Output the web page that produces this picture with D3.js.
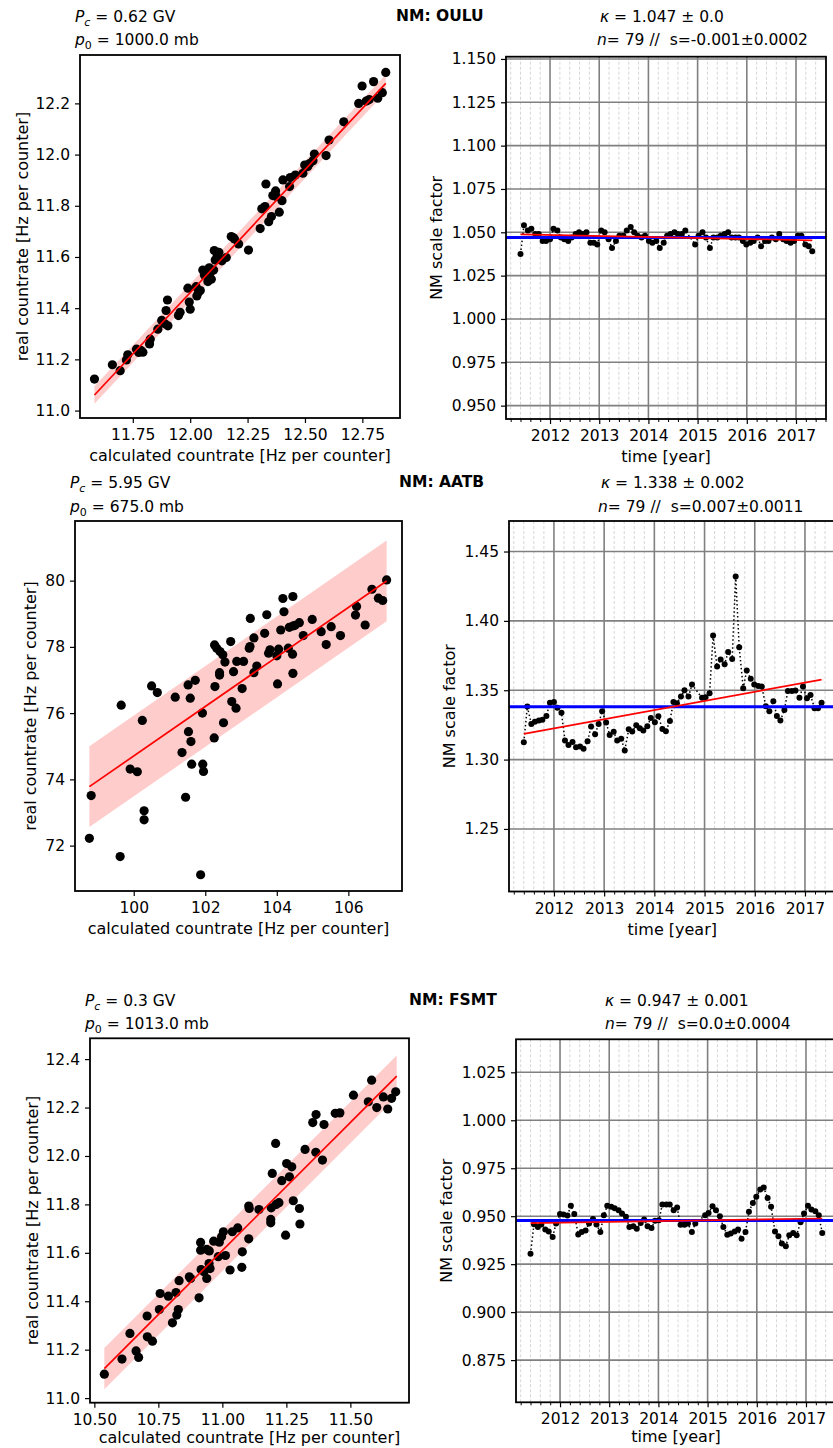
<!DOCTYPE html>
<html>
<head>
<meta charset="utf-8">
<script src="https://cdn.jsdelivr.net/npm/d3@7"></script>
<style>
  body { margin: 0; background: #fff; }
  svg { display: block; font-family: "DejaVu Sans", sans-serif; }
</style>
</head>
<body>
<div id="chart"></div>
<script>
const svgWidth = 833;
const svgHeight = 1448;

// time stamps (decimal year) of the 79 intervals, shared by all stations
const times = [
  2011.40, 2011.47, 2011.55, 2011.62, 2011.70, 2011.77, 2011.85, 2011.92, 2012.00, 2012.07,
  2012.15, 2012.22, 2012.29, 2012.37, 2012.44, 2012.52, 2012.59, 2012.67, 2012.74, 2012.82,
  2012.89, 2012.96, 2013.04, 2013.11, 2013.19, 2013.26, 2013.34, 2013.41, 2013.49, 2013.56,
  2013.64, 2013.71, 2013.78, 2013.86, 2013.93, 2014.01, 2014.08, 2014.16, 2014.23, 2014.31,
  2014.38, 2014.45, 2014.53, 2014.60, 2014.68, 2014.75,
  2014.95, 2015.02, 2015.10, 2015.17, 2015.25, 2015.32, 2015.40, 2015.47, 2015.55, 2015.62,
  2015.69, 2015.77, 2015.84, 2015.92, 2015.99, 2016.07, 2016.14, 2016.22, 2016.29, 2016.37,
  2016.44, 2016.51, 2016.59, 2016.66, 2016.74, 2016.81, 2016.89, 2016.96, 2017.04, 2017.11,
  2017.19, 2017.26, 2017.33
];

// NM scale factor per interval
const ouluScale = [
  1.0375, 1.0540, 1.0510, 1.0520, 1.0490, 1.0490, 1.0450, 1.0450, 1.0460, 1.0520,
  1.0510, 1.0470, 1.0460, 1.0450, 1.0470, 1.0490, 1.0500, 1.0490, 1.0500, 1.0440,
  1.0440, 1.0430, 1.0510, 1.0500, 1.0460, 1.0410, 1.0450, 1.0480, 1.0480, 1.0510,
  1.0530, 1.0500, 1.0480, 1.0470, 1.0480, 1.0450, 1.0440, 1.0450, 1.0410, 1.0440,
  1.0480, 1.0490, 1.0500, 1.0490, 1.0490, 1.0510,
  1.0430, 1.0480, 1.0500, 1.0470, 1.0410, 1.0470, 1.0470, 1.0480, 1.0490, 1.0500,
  1.0470, 1.0470, 1.0470, 1.0450, 1.0430, 1.0440, 1.0450, 1.0470, 1.0420, 1.0450,
  1.0450, 1.0470, 1.0460, 1.0490, 1.0460, 1.0450, 1.0440, 1.0450, 1.0480, 1.0480,
  1.0430, 1.0420, 1.0390
];
const aatbScale = [
  1.3125, 1.3382, 1.3257, 1.3272, 1.3281, 1.3288, 1.3315, 1.3409, 1.3416, 1.3373,
  1.3337, 1.3137, 1.3106, 1.3127, 1.3089, 1.3094, 1.3079, 1.3132, 1.3238, 1.3183,
  1.3257, 1.3349, 1.3267, 1.3178, 1.3200, 1.3137, 1.3151, 1.3065, 1.3219, 1.3202,
  1.3248, 1.3226, 1.3209, 1.3240, 1.3300, 1.3269, 1.3312, 1.3221, 1.3204, 1.3279,
  1.3416, 1.3406, 1.3454, 1.3500, 1.3454, 1.3541,
  1.3445, 1.3450, 1.3478, 1.3894, 1.3671, 1.3721, 1.3688, 1.3776, 1.3726, 1.4320,
  1.3810, 1.3514, 1.3642, 1.3582, 1.3541, 1.3531, 1.3526, 1.3385, 1.3349, 1.3421,
  1.3315, 1.3281, 1.3358, 1.3495, 1.3495, 1.3498, 1.3445, 1.3526, 1.3442, 1.3466,
  1.3370, 1.3370, 1.3409
];
const fsmtScale = [
  0.9304, 0.9458, 0.9444, 0.9457, 0.9431, 0.9420, 0.9392, 0.9462, 0.9512, 0.9509,
  0.9503, 0.9554, 0.9512, 0.9405, 0.9417, 0.9425, 0.9462, 0.9486, 0.9457, 0.9418,
  0.9505, 0.9554, 0.9549, 0.9542, 0.9531, 0.9514, 0.9497, 0.9444, 0.9448, 0.9434,
  0.9465, 0.9483, 0.9448, 0.9438, 0.9476, 0.9479, 0.9561, 0.9561, 0.9561, 0.9531,
  0.9545, 0.9455, 0.9455, 0.9462, 0.9417, 0.9462,
  0.9505, 0.9517, 0.9552, 0.9531, 0.9500, 0.9444, 0.9403, 0.9410, 0.9420, 0.9431,
  0.9382, 0.9418, 0.9523, 0.9569, 0.9601, 0.9639, 0.9649, 0.9595, 0.9549, 0.9420,
  0.9396, 0.9358, 0.9344, 0.9401, 0.9413, 0.9401, 0.9469, 0.9514, 0.9554, 0.9535,
  0.9526, 0.9505, 0.9413
];

// mean scale factor (blue) and linear trend end values (red)
const kappas = [1.047, 1.338, 0.9477];
const ouluTrend = [1.0488, 1.0454];
const aatbTrend = [1.3185, 1.3577];
const fsmtTrend = [0.9464, 0.9488];

// calculated vs real countrate [Hz per counter]
const ouluCalc = [11.583, 11.661, 11.695, 11.722, 11.728, 11.766, 11.776, 11.794, 11.823, 11.826,
  11.859, 11.876, 11.895, 11.901, 11.903, 11.949, 11.956, 11.990, 11.996, 12.000,
  12.026, 12.029, 12.044, 12.055, 12.073, 12.077, 12.083, 12.092, 12.102, 12.105,
  12.109, 12.125, 12.138, 12.157, 12.179, 12.193, 12.211, 12.254, 12.305, 12.312,
  12.330, 12.326, 12.342, 12.354, 12.372, 12.375, 12.388, 12.400, 12.404, 12.433,
  12.436, 12.458, 12.491, 12.499, 12.512, 12.535, 12.541, 12.592, 12.605, 12.669,
  12.734, 12.749, 12.767, 12.799, 12.817, 12.837, 12.852,
  12.036, 12.062, 12.088, 12.118, 11.785, 11.888, 12.360, 12.520, 12.780, 12.187];
const ouluReal = [11.123, 11.179, 11.156, 11.198, 11.218, 11.240, 11.227, 11.228, 11.260, 11.279,
  11.318, 11.352, 11.391, 11.432, 11.331, 11.371, 11.384, 11.478, 11.424, 11.396,
  11.484, 11.448, 11.469, 11.549, 11.549, 11.504, 11.558, 11.513, 11.549, 11.625,
  11.588, 11.618, 11.585, 11.598, 11.680, 11.670, 11.651, 11.627, 11.711, 11.788,
  11.885, 11.797, 11.738, 11.758, 11.858, 11.836, 11.775, 11.820, 11.901, 11.875,
  11.910, 11.920, 11.927, 11.959, 11.953, 11.976, 12.002, 11.996, 12.057, 12.128,
  12.200, 12.268, 12.209, 12.285, 12.220, 12.242, 12.321,
  11.462, 11.530, 11.540, 11.605, 11.235, 11.340, 11.840, 11.965, 12.215, 11.676];

const aatbCalc = [98.76, 98.81, 99.62, 99.65, 99.90, 100.10, 100.24, 100.29, 100.29, 100.50,
  100.66, 101.16, 101.35, 101.45, 101.52, 101.53, 101.58, 101.60, 101.62, 101.72,
  101.92, 101.93, 101.95, 101.87, 102.25, 102.27, 102.26, 102.32, 102.40, 102.40,
  102.41, 102.49, 102.51, 102.55, 102.71, 102.74, 102.79, 102.86, 102.88, 103.03,
  103.07, 103.23, 103.26, 103.25, 103.36, 103.36, 103.44, 103.66, 103.72, 103.77,
  103.81, 104.00, 104.02, 104.05, 104.11, 104.17, 104.20, 104.32, 104.35, 104.45,
  104.45, 104.44, 104.45, 104.51, 104.63, 104.74, 104.99, 105.24, 105.38, 105.52,
  105.78, 106.20, 106.23, 106.47, 106.66, 106.84, 106.96, 107.07];
const aatbReal = [72.22, 73.51, 71.67, 76.24, 74.31, 74.23, 75.78, 73.05, 72.78, 76.82,
  76.62, 76.48, 74.81, 73.46, 76.85, 75.44, 76.45, 75.14, 74.46, 76.99,
  76.00, 74.46, 74.24, 71.12, 75.25, 76.80, 78.06, 77.96, 77.22, 77.15,
  77.86, 77.76, 75.71, 77.54, 78.16, 76.35, 77.25, 76.15, 77.56, 76.74,
  77.56, 77.96, 78.86, 78.01, 77.22, 78.27, 77.42, 78.41, 78.97, 77.81,
  77.91, 77.73, 76.88, 77.93, 78.51, 79.46, 79.06, 77.96, 78.59, 78.63,
  79.52, 77.78, 77.20, 78.65, 78.73, 78.34, 78.83, 78.46, 78.07, 78.61,
  78.34, 78.96, 79.22, 78.66, 79.74, 79.47, 79.40, 80.02];

const fsmtCalc = [10.539, 10.608, 10.639, 10.663, 10.673, 10.706, 10.707, 10.727, 10.754, 10.757,
  10.789, 10.805, 10.819, 10.822, 10.828, 10.831, 10.871, 10.876, 10.909, 10.915,
  10.915, 10.917, 10.928, 10.939, 10.939, 10.949, 10.948, 10.952, 10.966, 10.984,
  10.988, 10.997, 11.004, 11.012, 11.030, 11.039, 11.060, 11.076, 11.078, 11.103,
  11.103, 11.105, 11.143, 11.189, 11.189, 11.191, 11.195, 11.208, 11.210, 11.221,
  11.232, 11.247, 11.251, 11.262, 11.271, 11.277, 11.301, 11.303, 11.323, 11.353,
  11.365, 11.366, 11.391, 11.397, 11.441, 11.459, 11.512, 11.570, 11.583, 11.603,
  11.629, 11.646, 11.661, 11.677];
const fsmtReal = [11.099, 11.161, 11.267, 11.195, 11.168, 11.339, 11.253, 11.235, 11.366, 11.432,
  11.421, 11.311, 11.436, 11.343, 11.366, 11.485, 11.501, 11.494, 11.414, 11.643,
  11.611, 11.531, 11.522, 11.494, 11.614, 11.608, 11.556, 11.535, 11.648, 11.584,
  11.644, 11.666, 11.687, 11.589, 11.529, 11.687, 11.703, 11.540, 11.604, 11.658,
  11.793, 11.783, 11.779, 11.724, 11.738, 11.786, 11.928, 12.052, 11.800, 11.807,
  11.898, 11.673, 11.969, 11.914, 11.955, 11.815, 11.783, 11.719, 12.027, 12.138,
  12.015, 12.171, 11.983, 12.130, 12.176, 12.178, 12.251, 12.224, 12.313, 12.200,
  12.244, 12.194, 12.238, 12.265];

// regression line ends and half width of the band
const ouluFitX = [11.583, 12.852], ouluFitY = [11.061, 12.278];
const aatbFitX = [98.76, 107.07], aatbFitY = [73.78, 79.99];
const fsmtFitX = [10.539, 11.681], fsmtFitY = [11.122, 12.330];
const bandHalf = [0.034, 1.22, 0.085];

// header texts
const stations = ["OULU", "AATB", "FSMT"];
const cutoffs = ["0.62", "5.95", "0.3"];
const pressures = ["1000.0", "675.0", "1013.0"];
const kappaTexts = ["1.047 \u00b1 0.0", "1.338 \u00b1 0.002", "0.947 \u00b1 0.001"];
const slopeTexts = ["s=-0.001\u00b10.0002", "s=0.007\u00b10.0011", "s=0.0\u00b10.0004"];

// ticks
const yearTicks = [2012, 2013, 2014, 2015, 2016, 2017];
const ouluXTicks = [11.75, 12.00, 12.25, 12.50, 12.75];
const ouluYTicks = [11.0, 11.2, 11.4, 11.6, 11.8, 12.0, 12.2];
const aatbXTicks = [100, 102, 104, 106];
const aatbYTicks = [72, 74, 76, 78, 80];
const fsmtXTicks = [10.50, 10.75, 11.00, 11.25, 11.50];
const fsmtYTicks = [11.0, 11.2, 11.4, 11.6, 11.8, 12.0, 12.2, 12.4];
const ouluSTicks = [0.950, 0.975, 1.000, 1.025, 1.050, 1.075, 1.100, 1.125, 1.150];
const aatbSTicks = [1.25, 1.30, 1.35, 1.40, 1.45];
const fsmtSTicks = [0.875, 0.900, 0.925, 0.950, 0.975, 1.000, 1.025];

const timeDomain = [2011.105, 2017.61];
const minorYears = d3.range(2011.2, 2017.65, 0.2)
  .map(d => Math.round(d * 10) / 10)
  .filter(d => Math.abs(d - Math.round(d)) > 1e-6);

const tickFont = 15.5;
const labelFont = 16;

const svg = d3.select("#chart")
  .append("svg")
  .attr("width", svgWidth)
  .attr("height", svgHeight);

svg.append("rect").attr("width", svgWidth).attr("height", svgHeight).attr("fill", "#fff");

function styleAxis(ax) {
  ax.select(".domain").remove();
  ax.selectAll(".tick line").attr("stroke", "#000").attr("stroke-width", 1.2);
  ax.selectAll(".tick text").attr("font-size", tickFont).attr("fill", "#000")
    .attr("font-family", "DejaVu Sans");
}

function drawScatter(p) {
  const g = svg.append("g").attr("transform", `translate(${p.left}, ${p.top})`);
  const x = d3.scaleLinear().domain(p.xDomain).range([0, p.width]);
  const y = d3.scaleLinear().domain(p.yDomain).range([p.height, 0]);

  const fit = p.fitX.map((fx, i) => ({ x: fx, y: p.fitY[i] }));

  // confidence band
  g.append("path").datum(fit)
    .attr("d", d3.area().x(d => x(d.x)).y0(d => y(d.y - p.band)).y1(d => y(d.y + p.band)))
    .attr("fill", "#ffcccc");

  g.selectAll("circle")
    .data(p.calc.map((c, i) => [c, p.real[i]]))
    .join("circle")
    .attr("cx", d => x(d[0]))
    .attr("cy", d => y(d[1]))
    .attr("r", 4.6)
    .attr("fill", "#000");

  g.append("path").datum(fit)
    .attr("d", d3.line().x(d => x(d.x)).y(d => y(d.y)))
    .attr("fill", "none")
    .attr("stroke", "#ff0000")
    .attr("stroke-width", 1.7);

  const xAxis = g.append("g")
    .attr("transform", `translate(0, ${p.height})`)
    .call(d3.axisBottom(x).tickValues(p.xTicks).tickFormat(d3.format(p.xFmt)).tickSize(5).tickPadding(6));
  styleAxis(xAxis);
  const yAxis = g.append("g")
    .call(d3.axisLeft(y).tickValues(p.yTicks).tickFormat(d3.format(p.yFmt)).tickSize(5).tickPadding(5));
  styleAxis(yAxis);

  g.append("rect")
    .attr("width", p.width).attr("height", p.height)
    .attr("fill", "none").attr("stroke", "#000").attr("stroke-width", 1.8);

  g.append("text")
    .attr("x", p.width / 2).attr("y", p.height + p.labelGap)
    .attr("text-anchor", "middle").attr("font-size", labelFont)
    .text("calculated countrate [Hz per counter]");

  g.append("text")
    .attr("transform", `translate(${p.yLabelX - p.left}, ${p.height / 2}) rotate(-90)`)
    .attr("text-anchor", "middle").attr("font-size", labelFont)
    .text("real countrate [Hz per counter]");
}

function drawTime(p) {
  const g = svg.append("g").attr("transform", `translate(${p.left}, ${p.top})`);
  const x = d3.scaleLinear().domain(timeDomain).range([0, p.width]);
  const y = d3.scaleLinear().domain(p.yDomain).range([p.height, 0]);

  // minor grid (dashed)
  g.append("g").selectAll("line").data(minorYears).join("line")
    .attr("x1", d => x(d)).attr("x2", d => x(d))
    .attr("y1", 0).attr("y2", p.height)
    .attr("stroke", "#d6d6d6").attr("stroke-width", 1)
    .attr("stroke-dasharray", "3,2");
  // major grid
  g.append("g").selectAll("line").data(yearTicks).join("line")
    .attr("x1", d => x(d)).attr("x2", d => x(d))
    .attr("y1", 0).attr("y2", p.height)
    .attr("stroke", "#808080").attr("stroke-width", 1.6);
  g.append("g").selectAll("line").data(p.yTicks).join("line")
    .attr("x1", 0).attr("x2", p.width)
    .attr("y1", d => y(d)).attr("y2", d => y(d))
    .attr("stroke", "#808080").attr("stroke-width", 1.6);

  const pts = times.map((t, i) => ({ t: t, v: p.values[i] }));
  g.append("path").datum(pts)
    .attr("d", d3.line().x(d => x(d.t)).y(d => y(d.v)))
    .attr("fill", "none").attr("stroke", "#000")
    .attr("stroke-width", 1.5).attr("stroke-dasharray", "1.5,2.5");
  g.selectAll("circle").data(pts).join("circle")
    .attr("cx", d => x(d.t)).attr("cy", d => y(d.v))
    .attr("r", 3).attr("fill", "#000");

  // mean factor
  g.append("line")
    .attr("x1", 0).attr("x2", p.width)
    .attr("y1", y(p.kappa)).attr("y2", y(p.kappa))
    .attr("stroke", "#0000ff").attr("stroke-width", 3);
  // linear trend
  g.append("line")
    .attr("x1", x(times[0])).attr("x2", x(times[times.length - 1]))
    .attr("y1", y(p.trend[0])).attr("y2", y(p.trend[1]))
    .attr("stroke", "#ff0000").attr("stroke-width", 1.7);

  const minorAxis = g.append("g")
    .attr("transform", `translate(0, ${p.height})`)
    .call(d3.axisBottom(x).tickValues(minorYears).tickFormat("").tickSize(3));
  styleAxis(minorAxis);
  minorAxis.selectAll(".tick line").attr("stroke-width", 1);
  const xAxis = g.append("g")
    .attr("transform", `translate(0, ${p.height})`)
    .call(d3.axisBottom(x).tickValues(yearTicks).tickFormat(d3.format("d")).tickSize(5).tickPadding(6));
  styleAxis(xAxis);
  const yAxis = g.append("g")
    .call(d3.axisLeft(y).tickValues(p.yTicks).tickFormat(d3.format(p.yFmt)).tickSize(5).tickPadding(5));
  styleAxis(yAxis);

  g.append("rect")
    .attr("width", p.width).attr("height", p.height)
    .attr("fill", "none").attr("stroke", "#000").attr("stroke-width", 1.8);

  g.append("text")
    .attr("x", p.width / 2).attr("y", p.height + p.labelGap)
    .attr("text-anchor", "middle").attr("font-size", labelFont)
    .text("time [year]");

  g.append("text")
    .attr("transform", `translate(${p.yLabelX - p.left}, ${p.height / 2}) rotate(-90)`)
    .attr("text-anchor", "middle").attr("font-size", labelFont)
    .text("NM scale factor");
}

function drawHeader(i, h) {
  const fs = 15.5;
  const pc = svg.append("text").attr("x", h.pcX).attr("y", h.row1).attr("font-size", fs);
  pc.append("tspan").attr("font-style", "italic").text("P");
  pc.append("tspan").attr("font-style", "italic").attr("font-size", 11).attr("dy", 3.5).text("c");
  pc.append("tspan").attr("dy", -3.5).text(` = ${cutoffs[i]} GV`);

  const p0 = svg.append("text").attr("x", h.pcX).attr("y", h.row2).attr("font-size", fs);
  p0.append("tspan").attr("font-style", "italic").text("p");
  p0.append("tspan").attr("font-size", 11).attr("dy", 3.5).text("0");
  p0.append("tspan").attr("dy", -3.5).text(` = ${pressures[i]} mb`);

  svg.append("text").attr("x", h.nmX).attr("y", h.row1 - 1)
    .attr("font-size", fs).attr("font-weight", "bold")
    .text(`NM: ${stations[i]}`);

  const k = svg.append("text").attr("x", h.kX).attr("y", h.row1).attr("font-size", fs);
  k.append("tspan").attr("font-style", "italic").text("\u03ba");
  k.append("tspan").text(` = ${kappaTexts[i]}`);

  const n = svg.append("text").attr("x", h.nX).attr("y", h.row2).attr("font-size", fs);
  n.append("tspan").attr("font-style", "italic").text("n");
  n.append("tspan").text(`= ${times.length} //\u00a0 ${slopeTexts[i]}`);
}

// ---- OULU ----
drawHeader(0, { pcX: 75, nmX: 396, kX: 600, nX: 597, row1: 22, row2: 45 });
drawScatter({
  left: 80, top: 55, width: 320, height: 363,
  xDomain: [11.52, 12.914], yDomain: [10.971, 12.389],
  xTicks: ouluXTicks, yTicks: ouluYTicks, xFmt: ".2f", yFmt: ".1f",
  calc: ouluCalc, real: ouluReal, fitX: ouluFitX, fitY: ouluFitY, band: bandHalf[0],
  yLabelX: 28, labelGap: 43
});
drawTime({
  left: 506, top: 56.7, width: 320, height: 362.3,
  yDomain: [0.9423, 1.1513], yTicks: ouluSTicks, yFmt: ".3f",
  values: ouluScale, kappa: kappas[0], trend: ouluTrend, yLabelX: 442, labelGap: 43
});

// ---- AATB ----
drawHeader(1, { pcX: 70, nmX: 399, kX: 601, nX: 598, row1: 488, row2: 512 });
drawScatter({
  left: 75, top: 521, width: 327, height: 370,
  xDomain: [98.358, 107.50], yDomain: [70.63, 81.80],
  xTicks: aatbXTicks, yTicks: aatbYTicks, xFmt: ".0f", yFmt: ".0f",
  calc: aatbCalc, real: aatbReal, fitX: aatbFitX, fitY: aatbFitY, band: bandHalf[1],
  yLabelX: 36, labelGap: 43
});
drawTime({
  left: 509, top: 521, width: 326.6, height: 370.5,
  yDomain: [1.2049, 1.472], yTicks: aatbSTicks, yFmt: ".2f",
  values: aatbScale, kappa: kappas[1], trend: aatbTrend, yLabelX: 455, labelGap: 43
});

// ---- FSMT ----
drawHeader(2, { pcX: 85, nmX: 409, kX: 605, nX: 605, row1: 1006, row2: 1029 });
drawScatter({
  left: 90, top: 1038.3, width: 319, height: 364.4,
  xDomain: [10.483, 11.729], yDomain: [10.981, 12.486],
  xTicks: fsmtXTicks, yTicks: fsmtYTicks, xFmt: ".2f", yFmt: ".1f",
  calc: fsmtCalc, real: fsmtReal, fitX: fsmtFitX, fitY: fsmtFitY, band: bandHalf[2],
  yLabelX: 38, labelGap: 40
});
drawTime({
  left: 516, top: 1039.3, width: 320, height: 363,
  yDomain: [0.853, 1.0422], yTicks: fsmtSTicks, yFmt: ".3f",
  values: fsmtScale, kappa: kappas[2], trend: fsmtTrend, yLabelX: 452, labelGap: 40
});
</script>
</body>
</html>
